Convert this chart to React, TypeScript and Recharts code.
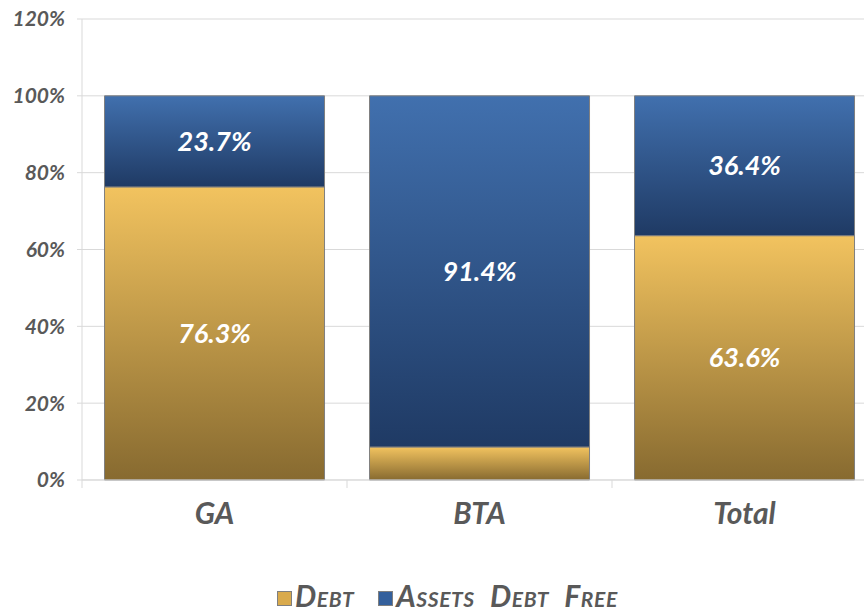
import { Bar, BarChart, CartesianGrid, LabelList, Legend, XAxis, YAxis } from 'recharts'

const categories = ['GA', 'BTA', 'Total']
const debt = [76.3, 8.6, 63.6]
const debtFree = [23.7, 91.4, 36.4]
const yTicks = [0, 20, 40, 60, 80, 100, 120]

const data = categories.map((name, i) => ({ name, debt: debt[i], free: debtFree[i] }))

const FONT = 'Lato, "DejaVu Sans", sans-serif'
const GREY = '#595959'

const pct = (v: any) => (Number(v) < 10 ? '' : `${Number(v).toFixed(1)}%`)

function XTick(props: any) {
  const { x, y, payload, index } = props
  const half = payload.offset ?? 0
  return (
    <g>
      <line x1={x - half} x2={x - half} y1={y - 8} y2={y} stroke="#d9d9d9" />
      {index === categories.length - 1 && (
        <line x1={x + half} x2={x + half} y1={y - 8} y2={y} stroke="#d9d9d9" />
      )}
      <text x={x} y={y + 36} textAnchor="middle" fill={GREY} fontFamily={FONT}
        fontSize={30} fontWeight="bold" fontStyle="italic">
        {payload.value}
      </text>
    </g>
  )
}

function LegendBox() {
  const item = (color: string, label: string, gap: number) => (
    <span style={{ display: 'inline-flex', alignItems: 'center', marginRight: gap }}>
      <span style={{ width: 13, height: 13, background: color, border: '1px solid #7f7f7f', marginRight: 3, marginTop: 6 }} />
      <span style={{ fontVariant: 'small-caps', fontStyle: 'italic', fontWeight: 'bold', fontSize: 30, color: GREY, fontFamily: FONT, wordSpacing: 8, letterSpacing: 0.6 }}>
        {label}
      </span>
    </span>
  )
  return (
    <div style={{ height: 46, display: 'flex', justifyContent: 'flex-start', alignItems: 'flex-end', paddingLeft: 277 }}>
      {item('#d9aa4c', 'Debt', 24)}
      {item('#34609c', 'Assets Debt Free', 0)}
    </div>
  )
}

export default function App() {
  return (
    <div style={{ position: 'absolute', left: 0, top: 0, background: '#fff', width: 864, height: 613, overflow: 'hidden' }}>
      <BarChart width={877} height={613} data={data} barCategoryGap="8.5%"
        margin={{ top: 19, right: 0, left: 0, bottom: 0 }}>
        <defs>
          <linearGradient id="gold" x1="0" y1="0" x2="0" y2="1">
            <stop offset="0%" stopColor="#f2c35f" />
            <stop offset="100%" stopColor="#876a30" />
          </linearGradient>
          <linearGradient id="blue" x1="0" y1="0" x2="0" y2="1">
            <stop offset="0%" stopColor="#4170ae" />
            <stop offset="100%" stopColor="#1f3a64" />
          </linearGradient>
        </defs>
        <CartesianGrid vertical={false} stroke="#d9d9d9" />
        <XAxis dataKey="name" height={87} stroke="#d9d9d9" tickLine={false} tick={<XTick />} interval={0} />
        <YAxis width={82} domain={[0, 120]} ticks={yTicks} stroke="#d9d9d9" tickSize={5} tickMargin={12}
          tickFormatter={(v) => `${v}%`}
          tick={{ fill: GREY, fontSize: 21, fontWeight: 'bold', fontStyle: 'italic', fontFamily: FONT }} />
        <Legend verticalAlign="bottom" content={<LegendBox />} />
        <Bar dataKey="debt" name="Debt" stackId="a" fill="url(#gold)" stroke="#7f7f7f" strokeWidth={1} isAnimationActive={false}>
          <LabelList dataKey="debt" position="center" formatter={pct} fill="#fff"
            style={{ fontSize: 27, fontWeight: 'bold', fontStyle: 'italic', fontFamily: FONT }} />
        </Bar>
        <Bar dataKey="free" name="Assets Debt Free" stackId="a" fill="url(#blue)" stroke="#7f7f7f" strokeWidth={1} isAnimationActive={false}>
          <LabelList dataKey="free" position="center" formatter={pct} fill="#fff"
            style={{ fontSize: 27, fontWeight: 'bold', fontStyle: 'italic', fontFamily: FONT }} />
        </Bar>
      </BarChart>
    </div>
  )
}
